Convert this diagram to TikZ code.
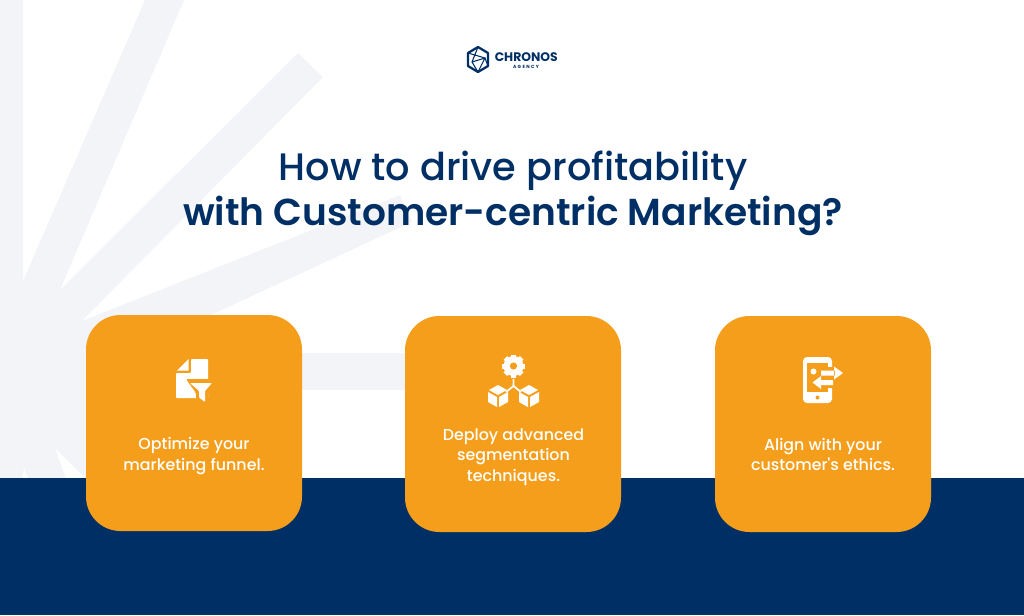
\documentclass[tikz,border=0pt]{standalone}
\usepackage{fontspec}
\setmainfont{Poppins}
\newfontfamily\mediumfont{Poppins Medium}
\newfontfamily\semifont{Poppins SemiBold}
\usetikzlibrary{positioning}
\definecolor{navy}{HTML}{002F65}
\definecolor{amber}{HTML}{F59E1B}
\definecolor{ray}{HTML}{F2F4F8}
\tikzset{
    card/.style = {fill = amber, rounded corners = 34.5pt*0.75},
    cardtext/.style = {text = white, align = center, font = \mediumfont\fontsize{11.9pt}{15.6pt}\selectfont},
    title/.style = {text = navy, align = center},
    icon/.style = {fill = white, draw = none}
}
\begin{document}
\begin{tikzpicture}[x=0.75pt, y=-0.75pt]
        \useasboundingbox (0, 0) rectangle (1024, 615);

        % background rays
        \fill[ray] (0, 0) -- (23, 0) -- (23, 281) -- (145, 0) -- (184, 0) -- (60, 290)
            -- (298, 53) -- (323, 77) -- (82, 321) -- (400, 195) -- (412, 222) -- (200, 320)
            -- (200, 478) -- (0, 478) -- cycle;
        \fill[ray] (200, 353) rectangle (450, 390);
        \fill[white] (55, 448) -- (85, 478) -- (66, 478) -- cycle;
        \fill[white] (24, 468) -- (27.5, 478) -- (22.5, 478) -- cycle;

        % bottom band
        \fill[navy] (0, 478) rectangle (1024, 615);

        % cards
        \fill[card] (86, 315) rectangle (302, 531);
        \fill[card] (405, 316) rectangle (621, 532);
        \fill[card] (715, 316) rectangle (931, 532);

        % logo
        \draw[navy, line width = 1.7pt, line join = round] (478, 47) -- (488, 53) -- (488, 66)
            -- (478, 72) -- (468, 66) -- (468, 53) -- cycle;
        \draw[navy, line width = 0.8pt] (478, 47) -- (472, 62) -- (478, 72) -- (485, 58) -- (468, 53)
            (472, 62) -- (485, 58) -- (488, 66);
        \node[anchor = west, text = navy, inner sep = 0pt, font = \fontsize{9.3pt}{10pt}\selectfont\bfseries] (brand) at (494.5, 57) {CHRONOS};
        \node[text = navy, inner sep = 0pt, font = \fontsize{3.4pt}{4pt}\selectfont\bfseries\addfontfeatures{LetterSpace=30}] (agency) at (526, 66.5) {AGENCY};

        % heading
        \node[title] (heading) at (513, 193.5) {{\mediumfont\fontsize{28.7pt}{36.5pt}\selectfont How to drive profitability}\\[3.5pt]
            {\semifont\fontsize{28.15pt}{36.5pt}\selectfont with Customer-centric Marketing?}};

        % first icon
        \fill[icon, rounded corners = 0.6pt] (191, 359) -- (208, 359) -- (208, 398) -- (176, 398)
            -- (176, 373) -- (191, 373) -- cycle;
        \fill[icon] (177, 370.5) -- (188.5, 359) -- (188.5, 370.5) -- cycle;
        \fill[amber, rounded corners = 1pt] (186, 379) -- (216, 379) -- (216, 385) -- (208, 393)
            -- (208, 407) -- (196, 400) -- (196, 393) -- cycle;
        \fill[icon, rounded corners = 0.6pt] (190, 383) -- (212, 383) -- (205, 391) -- (205, 402)
            -- (199, 397.5) -- (199, 391) -- cycle;

        % second icon
        \fill[icon] (513.5, 366) circle (10pt*0.75);
        \foreach \a in {0, 45, ..., 315}
            \fill[icon, rotate around = {\a:(513.5, 366)}] (511, 354.5) rectangle (516, 360);
        \fill[amber] (513.5, 366) circle (3.6pt*0.75);
        \draw[white, line width = 1.3pt] (513.5, 379) -- (513.5, 386) -- (506, 392) (513.5, 386) -- (521, 392);
        \foreach \cx in {498, 529} {
            \fill[icon] (\cx, 385) -- (\cx + 9, 390) -- (\cx, 395) -- (\cx - 9, 390) -- cycle;
            \fill[icon] (\cx - 10, 392) -- (\cx - 1, 397) -- (\cx - 1, 407) -- (\cx - 10, 402) -- cycle;
            \fill[icon] (\cx + 10, 392) -- (\cx + 1, 397) -- (\cx + 1, 407) -- (\cx + 10, 402) -- cycle;
        }

        % third icon
        \fill[icon, rounded corners = 3pt] (803, 357) rectangle (832, 403);
        \fill[amber] (807, 363) rectangle (827.5, 392);
        \fill[amber] (827, 367) rectangle (833, 388);
        \fill[icon] (813.5, 371.5) circle (3pt*0.75);
        \fill[amber] (817.5, 397.5) circle (2pt*0.75);
        \fill[icon] (821, 370.5) rectangle (835, 375.5) (834, 366.5) -- (843, 373) -- (834, 379.5) -- cycle;
        \fill[icon] (820, 380) rectangle (833, 385) (821, 376) -- (812.5, 382.5) -- (821, 389) -- cycle;

        % card texts
        \node[cardtext] (funnel) at (194, 456) {Optimize your\\marketing funnel.};
        \node[cardtext] (segment) at (513.5, 457) {Deploy advanced\\segmentation\\techniques.};
        \node[cardtext] (ethics) at (823, 454.5) {Align with your\\customer's ethics.};
\end{tikzpicture}
\end{document}
